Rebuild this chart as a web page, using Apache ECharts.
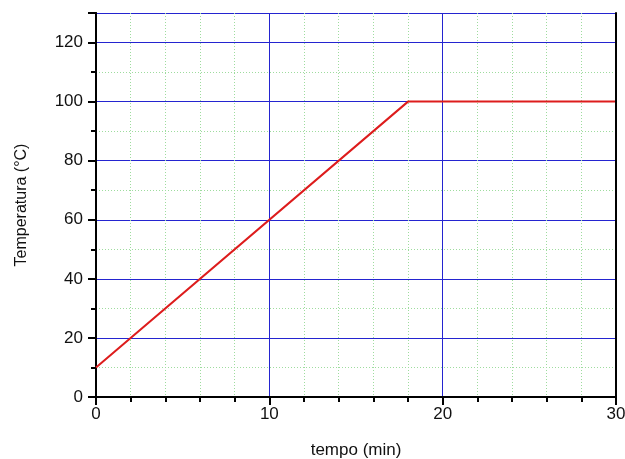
<!DOCTYPE html>
<html><head><meta charset="utf-8">
<script src="https://cdn.jsdelivr.net/npm/echarts@6/dist/echarts.min.js"></script>
<style>html,body{margin:0;padding:0;background:#fff}#c{width:625px;height:459px}</style>
</head><body><div id="c"></div>
<script>
const timeMin = [0, 18, 30];
const tempC = [10, 100, 100];
const xTicks = [0, 10, 20, 30];
const yTicks = [0, 20, 40, 60, 80, 100, 120];

const font = 'Liberation Sans, Arial, sans-serif';
const chart = echarts.init(document.getElementById('c'));
const blue = '#2424d0';
const green = '#9edc9e';
chart.setOption({
  animation: false,
  grid: { left: 96, right: 9, top: 13, bottom: 62, outerBoundsMode: 'none' },
  xAxis: [{
    type: 'value', min: 0, max: 30, interval: 10,
    name: 'tempo (min)', nameLocation: 'middle', nameGap: 45,
    nameTextStyle: { fontFamily: font, fontSize: 17, color: '#111' },
    axisLine: { lineStyle: { color: '#000', width: 2 } },
    axisTick: { show: true, length: 8, lineStyle: { color: '#000', width: 2 } },
    minorTick: { show: true, splitNumber: 5, length: 5, lineStyle: { color: '#000', width: 2 } },
    axisLabel: { fontFamily: font, fontSize: 17, color: '#111', margin: 9,
      formatter: v => xTicks.includes(v) ? String(v) : '' },
    splitLine: { show: true, lineStyle: { color: blue, width: 1 } },
    minorSplitLine: { show: true, lineStyle: { color: green, width: 1, type: [1, 2] } },
    z: 2
  }, {
    type: 'value', position: 'top', min: 0, max: 30, interval: 10,
    axisLine: { show: true, lineStyle: { color: '#000', width: 2 } },
    axisTick: { show: false }, axisLabel: { show: false }, splitLine: { show: false },
    z: 6
  }],
  yAxis: [{
    type: 'value', min: 0, max: 130, interval: 10,
    axisLine: { show: true, lineStyle: { color: '#000', width: 2 } },
    axisTick: { show: true, length: 5, lineStyle: { color: '#000', width: 2 } },
    axisLabel: { show: false },
    splitLine: { show: true, lineStyle: { color: green, width: 1, type: [1, 2] } },
    z: 1
  }, {
    type: 'value', position: 'left', min: 0, max: 130, interval: 20,
    name: 'Temperatura (°C)', nameLocation: 'middle', nameGap: 66, nameRotate: 90,
    nameTextStyle: { fontFamily: font, fontSize: 16, color: '#111' },
    axisLine: { show: true, lineStyle: { color: '#000', width: 2 } },
    axisTick: { show: true, length: 8, lineStyle: { color: '#000', width: 2 } },
    axisLabel: { fontFamily: font, fontSize: 17, color: '#111', margin: 13,
      formatter: v => yTicks.includes(v) ? String(v) : '' },
    splitLine: { show: true, lineStyle: { color: blue, width: 1 } },
    z: 2
  }, {
    type: 'value', position: 'right', min: 0, max: 130,
    axisLine: { show: true, lineStyle: { color: '#000', width: 2 } },
    axisTick: { show: false }, axisLabel: { show: false }, splitLine: { show: false },
    z: 6
  }],
  series: [{
    type: 'line', xAxisIndex: 0, yAxisIndex: 1,
    data: timeMin.map((t, i) => [t, tempC[i]]),
    symbol: 'none', lineStyle: { color: '#dd1c1c', width: 2 }, z: 4
  }]
});
</script></body></html>
